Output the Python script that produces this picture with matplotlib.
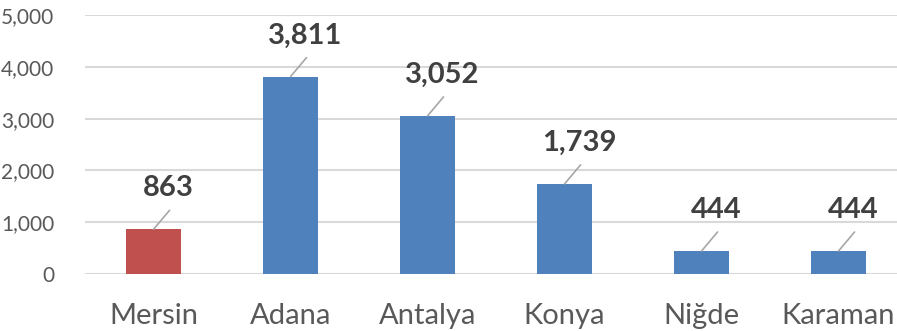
import matplotlib
matplotlib.use('Agg')
import matplotlib.pyplot as plt

plt.rcParams['font.family'] = ['Lato', 'DejaVu Sans']

cities = ['Mersin', 'Adana', 'Antalya', 'Konya', 'Niğde', 'Karaman']
values = [863, 3811, 3052, 1739, 444, 444]
colors = ['#C0504D', '#4F81BD', '#4F81BD', '#4F81BD', '#4F81BD', '#4F81BD']

fig = plt.figure(figsize=(8.97, 3.31), dpi=100)
ax = fig.add_axes([0.0948, 0.1722, 0.9164, 0.7825])

x = range(len(cities))
ax.bar(x, values, width=0.4, color=colors, zorder=3)

ax.set_xlim(-0.5, len(cities) - 0.5)
ax.set_ylim(0, 5000)
ax.set_yticks(range(0, 5001, 1000))
ax.set_yticklabels([f'{v:,}' for v in range(0, 5001, 1000)])
ax.yaxis.grid(True, color='#D9D9D9', linewidth=1.5, zorder=0)
ax.set_xticks(list(x))
ax.set_xticklabels(cities)
for s in ax.spines.values():
    s.set_visible(False)
ax.tick_params(axis='both', length=0)
ax.tick_params(axis='y', labelsize=15, labelcolor='#595959', pad=22)
ax.tick_params(axis='x', labelsize=21, labelcolor='#595959', pad=21)

# value labels, each with a short leader line from the bar top
for i, v in enumerate(values):
    ax.annotate('', xy=(i, v), xytext=(16, 19), textcoords='offset pixels',
                arrowprops=dict(arrowstyle='-', color='#A6A6A6', lw=1.2,
                                shrinkA=0, shrinkB=0))
    ax.annotate(f'{v:,}', xy=(i, v), xytext=(15, 41), textcoords='offset pixels',
                ha='center', va='center', fontsize=21, fontweight='bold',
                color='#404040')

fig.savefig('out.png', dpi=100)
